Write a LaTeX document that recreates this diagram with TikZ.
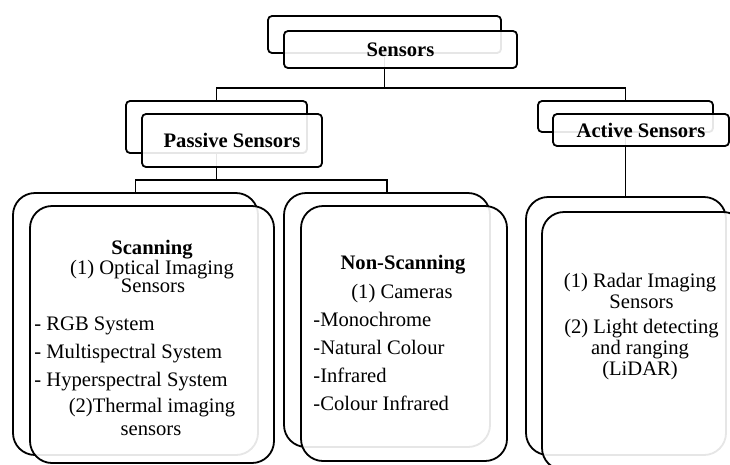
\documentclass[tikz,border=0pt]{standalone}
\usepackage{fontspec}
\setmainfont{Liberation Serif}
\begin{document}
\begin{tikzpicture}[x=1pt,y=-1pt,line width=1.8pt,
  smallback/.style={draw=black,rounded corners=4pt,minimum width=#1,inner sep=0pt},
  smallfront/.style={draw=black,rounded corners=4pt,fill=white,fill opacity=0.9,text opacity=1,
    minimum width=#1,inner sep=0pt,font=\fontsize{20.6}{24}\selectfont\bfseries},
  bigback/.style={draw=black,rounded corners=22pt,inner sep=0pt},
  bigfront/.style={draw=black,rounded corners=22pt,fill=white,fill opacity=0.9,inner sep=0pt},
  line/.style={font=\fontsize{20.6}{24}\selectfont,inner sep=0pt,anchor=base},
  lline/.style={line,anchor=base west},
  head/.style={line,font=\fontsize{20.6}{24}\selectfont\bfseries}]
\useasboundingbox (0,0) rectangle (730,464);
\clip (0,0) rectangle (730,464);

% back boxes
\node[smallback=233pt,minimum height=37pt] (sensB) at (384.5,34.5) {};
\node[smallback=181pt,minimum height=52pt] (passB) at (216.5,127) {};
\node[smallback=175pt,minimum height=31pt] (actB) at (625.5,116.5) {};
\node[bigback,minimum width=245pt,minimum height=262pt] (scanB) at (135.5,324) {};
\node[bigback,minimum width=206pt,minimum height=254pt] (nonB) at (387,320) {};
\node[bigback,minimum width=200pt,minimum height=258pt] (actcB) at (626,326) {};

% tree connectors
\path (sensB.south) ++(0,34) coordinate (j1);
\draw (sensB.south) -- (j1);
\draw (passB.north) |- (j1) -| (actB.north);
\path (passB.south) ++(0,26) coordinate (j2);
\draw (passB.south) -- (j2);
\draw (scanB.north) |- (j2) -| (nonB.north);
\draw (actB.south) -- (actB.south |- actcB.north);

% front boxes
\node[smallfront=233pt,minimum height=37pt] (sens) at (400.5,49.5) {Sensors};
\node[smallfront=180pt,minimum height=53pt] (pass) at (232,140.5) {Passive Sensors};
\node[smallfront=176pt,minimum height=32pt] (act) at (641,130) {Active Sensors};
\node[bigfront,minimum width=244pt,minimum height=257pt] (scan) at (152,334.5) {};
\node[bigfront,minimum width=206pt,minimum height=255pt] (non) at (404,333.5) {};
\node[bigfront,minimum width=203pt,minimum height=258pt] (actc) at (643.5,341) {};

% scanning contents
\node[head] (sc1) at (152,254) {Scanning};
\node[line] (sc2) at (152,274) {(1) Optical Imaging};
\node[line] (sc3) at (153,292.6) {Sensors};
\node[lline] (sc4) at (33.5,330) {- RGB System};
\node[lline] (sc5) at (33.5,358.3) {- Multispectral System};
\node[lline] (sc6) at (33.5,386) {- Hyperspectral System};
\node[line] (sc7) at (152,412) {(2)Thermal imaging};
\node[line] (sc8) at (151,435) {sensors};

% non-scanning contents
\node[head] (ns1) at (403,269.3) {Non-Scanning};
\node[line] (ns2) at (402,298.3) {(1) Cameras};
\node[lline] (ns3) at (312.5,326) {-Monochrome};
\node[lline] (ns4) at (312.5,354.3) {-Natural Colour};
\node[lline] (ns5) at (312.5,382.7) {-Infrared};
\node[lline] (ns6) at (312.5,410.7) {-Colour Infrared};

% active contents
\node[line] (ac1) at (640,287.3) {(1) Radar Imaging};
\node[line] (ac2) at (641.5,308.3) {Sensors};
\node[line] (ac3) at (641.5,333.3) {(2) Light detecting};
\node[line] (ac4) at (640,354) {and ranging};
\node[line] (ac5) at (640,375) {(LiDAR)};
\end{tikzpicture}
\end{document}
